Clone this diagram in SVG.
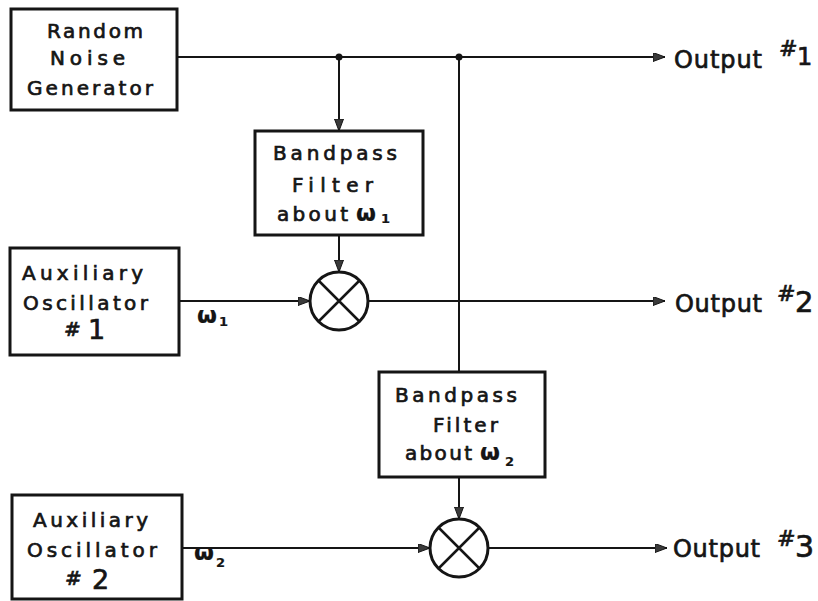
<svg xmlns="http://www.w3.org/2000/svg" width="818" height="601" viewBox="0 0 818 601">
  <style>
    .box { fill: #ffffff; stroke: #151515; stroke-width: 3; }
    .wire { fill: none; stroke: #151515; stroke-width: 2; }
    .mix { fill: #ffffff; stroke: #151515; stroke-width: 3; }
    .mixx { fill: none; stroke: #151515; stroke-width: 2.5; }
    text { font-family: "DejaVu Sans", "Liberation Sans", sans-serif; fill: #151515; stroke: #151515; stroke-width: 0.7; }
    .lbl { font-size: 20px; }
    .out { font-size: 24px; }
    .hash { font-size: 22px; font-style: italic; }
    .w { font-size: 23px; font-weight: bold; stroke-width: 0.2; }
    .sub { font-size: 13px; font-weight: bold; stroke-width: 0.2; }
  </style>
  <defs>
    <marker id="arrow" markerUnits="userSpaceOnUse" markerWidth="13" markerHeight="10" refX="12" refY="4.5" orient="auto">
      <path d="M0,0 L12,4.5 L0,9 Z" fill="#3a3a3a" stroke="#151515" stroke-width="1"/>
    </marker>
  </defs>
  <rect width="818" height="601" fill="#ffffff"/>

  <!-- signal paths -->
  <g id="connectors">
    <line class="wire" x1="177" y1="57" x2="665" y2="57" marker-end="url(#arrow)"/>
    <line class="wire" x1="339" y1="57" x2="339" y2="131" marker-end="url(#arrow)"/>
    <line class="wire" x1="459" y1="57" x2="459" y2="372"/>
    <line class="wire" x1="339" y1="235" x2="339" y2="272" marker-end="url(#arrow)"/>
    <line class="wire" x1="179" y1="301" x2="310" y2="301" marker-end="url(#arrow)"/>
    <line class="wire" x1="368" y1="301" x2="665" y2="301" marker-end="url(#arrow)"/>
    <line class="wire" x1="459" y1="477" x2="459" y2="519" marker-end="url(#arrow)"/>
    <line class="wire" x1="182" y1="548" x2="430" y2="548" marker-end="url(#arrow)"/>
    <line class="wire" x1="488" y1="548" x2="667" y2="548" marker-end="url(#arrow)"/>
    <circle cx="339" cy="57" r="3.5" fill="#151515"/>
    <circle cx="459" cy="57" r="3.5" fill="#151515"/>
    <text class="w" x="197" y="323">ω</text>
    <text class="sub" x="219" y="326">1</text>
    <text class="w" x="194" y="560">ω</text>
    <text class="sub" x="216" y="567">2</text>
  </g>

  <g id="noise-generator">
    <rect class="box" x="11" y="9" width="166" height="101"/>
    <text class="lbl" x="47" y="38" textLength="96" lengthAdjust="spacing">Random</text>
    <text class="lbl" x="50" y="65" textLength="75" lengthAdjust="spacing">Noise</text>
    <text class="lbl" x="27" y="95" textLength="126" lengthAdjust="spacing">Generator</text>
  </g>

  <g id="bandpass-1">
    <rect class="box" x="255" y="131" width="168" height="104"/>
    <text class="lbl" x="273" y="160" textLength="124" lengthAdjust="spacing">Bandpass</text>
    <text class="lbl" x="292" y="192" textLength="81" lengthAdjust="spacing">Filter</text>
    <text class="lbl" x="277" y="221" textLength="71" lengthAdjust="spacing">about</text>
    <text class="w" x="356" y="221">ω</text>
    <text class="sub" x="381" y="223">1</text>
  </g>

  <g id="oscillator-1">
    <rect class="box" x="10" y="248" width="169" height="107"/>
    <text class="lbl" x="22" y="280" textLength="121" lengthAdjust="spacing">Auxiliary</text>
    <text class="lbl" x="23" y="310" textLength="125" lengthAdjust="spacing">Oscillator</text>
    <text class="hash" x="64" y="336" style="font-size:20px">#</text>
    <text class="lbl" x="88" y="339" style="font-size:27px">1</text>
  </g>

  <g id="mixer-1">
    <circle class="mix" cx="339" cy="301" r="29"/>
    <path class="mixx" d="M318.5,280.5 L359.5,321.5 M359.5,280.5 L318.5,321.5"/>
  </g>

  <g id="bandpass-2">
    <rect class="box" x="379" y="372" width="166" height="105"/>
    <text class="lbl" x="395" y="402" textLength="122" lengthAdjust="spacing">Bandpass</text>
    <text class="lbl" x="433" y="432" textLength="65" lengthAdjust="spacing">Filter</text>
    <text class="lbl" x="405" y="460" textLength="67" lengthAdjust="spacing">about</text>
    <text class="w" x="480" y="460">ω</text>
    <text class="sub" x="505" y="466">2</text>
  </g>

  <g id="oscillator-2">
    <rect class="box" x="12" y="495" width="170" height="104"/>
    <text class="lbl" x="33" y="527" textLength="115" lengthAdjust="spacing">Auxiliary</text>
    <text class="lbl" x="27" y="557" textLength="130" lengthAdjust="spacing">Oscillator</text>
    <text class="hash" x="65" y="585" style="font-size:20px">#</text>
    <text class="lbl" x="92" y="589" style="font-size:27px">2</text>
  </g>

  <g id="mixer-2">
    <circle class="mix" cx="459" cy="548" r="29"/>
    <path class="mixx" d="M438.5,527.5 L479.5,568.5 M479.5,527.5 L438.5,568.5"/>
  </g>

  <g id="output-1">
    <text class="out" x="674" y="68" textLength="88" lengthAdjust="spacing">Output</text>
    <text class="hash" x="779" y="56">#</text>
    <text class="lbl" x="797" y="65" style="font-size:24px">1</text>
  </g>

  <g id="output-2">
    <text class="out" x="675" y="312" textLength="87" lengthAdjust="spacing">Output</text>
    <text class="hash" x="777" y="301">#</text>
    <text class="lbl" x="795" y="312" style="font-size:29px">2</text>
  </g>

  <g id="output-3">
    <text class="out" x="673" y="557" textLength="87" lengthAdjust="spacing">Output</text>
    <text class="hash" x="777" y="546">#</text>
    <text class="lbl" x="795" y="557" style="font-size:30px">3</text>
  </g>
</svg>
